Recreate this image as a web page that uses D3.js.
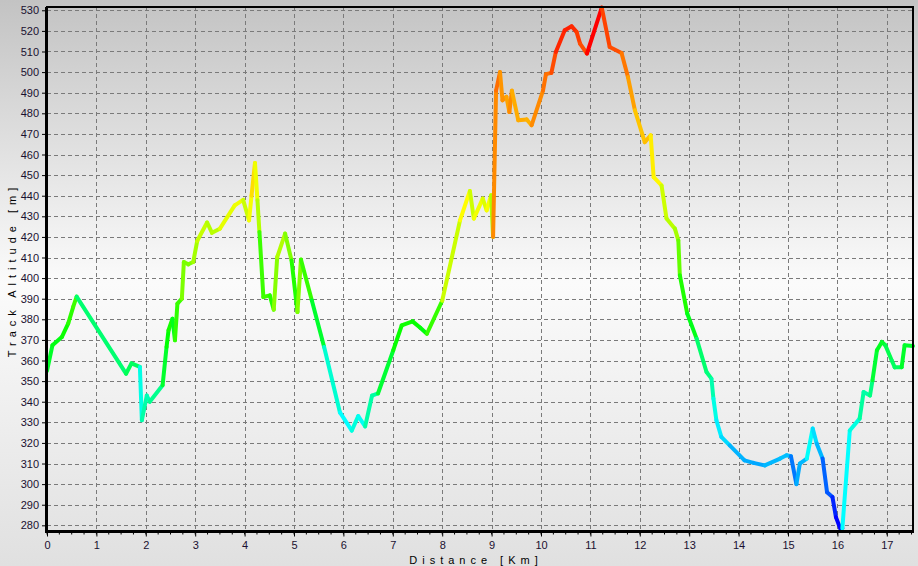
<!DOCTYPE html>
<html><head><meta charset="utf-8">
<script src="https://cdn.jsdelivr.net/npm/d3@7"></script>
<style>html,body{margin:0;padding:0;overflow:hidden;}svg{display:block;}</style>
</head><body>
<svg id="chart" width="918" height="566"></svg>
<script>
const distances = [0,0.11,0.3,0.43,0.53,0.6,1.6,1.71,1.88,1.92,2.02,2.08,2.34,2.42,2.46,2.54,2.59,2.64,2.73,2.77,2.86,2.96,3.04,3.24,3.34,3.5,3.8,3.97,4.09,4.14,4.21,4.26,4.30,4.38,4.51,4.59,4.66,4.82,4.95,5.07,5.14,5.36,5.61,5.93,6.17,6.3,6.44,6.58,6.7,7.01,7.18,7.4,7.55,7.69,8.0,8.36,8.56,8.64,8.82,8.9,8.99,9.03,9.09,9.17,9.22,9.3,9.36,9.41,9.54,9.71,9.81,10.04,10.1,10.21,10.3,10.48,10.62,10.72,10.79,10.93,11.23,11.39,11.63,11.76,11.9,12.1,12.22,12.28,12.44,12.54,12.71,12.78,12.81,12.96,13.15,13.35,13.45,13.49,13.55,13.65,13.82,14.12,14.3,14.53,14.84,14.97,15.06,15.17,15.24,15.38,15.5,15.58,15.7,15.79,15.9,15.97,16.07,16.1,16.25,16.45,16.53,16.66,16.71,16.8,16.9,16.97,17.1,17.16,17.3,17.36,17.53];
const altitudes = [355,367.4,371.4,378,386,391,353.6,358.6,356.9,331,343,340,348,366.6,374.7,380.3,369.8,387.6,390,407.8,406.7,407.8,418,427,422,424,435.3,438,428,440,455.9,437.8,422.4,390.8,391.6,384.7,410.2,421.6,408.6,383.5,409,389.2,366.6,334.8,326,333,328,343,344,365,377,379,376,373,389,428,442.3,428.9,438.6,432.9,440.2,420,491,500,486.3,488,480.6,491,476.6,477,474.2,491,499,499.6,509.8,520.3,522.2,519.5,513.8,509,531.3,512.2,509.3,497.6,481.5,466,469.3,449,445,428.9,424,418.3,401.4,382.8,370.6,354.4,351.2,341.5,331,322.9,318.8,311.5,310.3,309.1,312.4,314,313.5,300,310,312.4,327,319.7,312.4,296,293.7,284,277.6,278.5,326,331.8,344.7,343,350.4,365,369,367.4,360,356.7,356.7,367.4,367];
const xTicks = [0,1,2,3,4,5,6,7,8,9,10,11,12,13,14,15,16,17];
const yTicks = [280,290,300,310,320,330,340,350,360,370,380,390,400,410,420,430,440,450,460,470,480,490,500,510,520,530];
const colorStops = [277,326,375,442,495,531];
const colorRange = ["#0000ff","#00ffff","#00ff00","#ffff00","#ff8000","#ff0000"];
const xLabel = "Distance [Km]";
const yLabel = "Track Altitude [m]";

(function(){
const W = 918, H = 566;
const pL = 47, pR = 913, pT = 7, pB = 531.5;
const svg = d3.select("#chart");
const font = "'Liberation Sans', Arial, sans-serif";

const defs = svg.append("defs");
const grad = defs.append("linearGradient").attr("id","bg").attr("x1",0).attr("y1",0).attr("x2",0).attr("y2",1);
grad.append("stop").attr("offset","0").attr("stop-color","#c3c3c3");
grad.append("stop").attr("offset","0.5").attr("stop-color","#fbfbfb");
grad.append("stop").attr("offset","1").attr("stop-color","#e0e0e0");
svg.append("rect").attr("width",W).attr("height",H).attr("fill","url(#bg)");

const x = d3.scaleLinear().domain([0,17.53]).range([pL,pR]);
const y = d3.scaleLinear().domain([277,531.6]).range([pB,pT]);
const color = d3.scaleLinear().domain(colorStops).range(colorRange).clamp(true);

// grid
const grid = svg.append("g").attr("stroke","#7a7a7a").attr("stroke-width",1).attr("stroke-dasharray","4,3").attr("shape-rendering","crispEdges");
grid.selectAll("line.h").data(yTicks).join("line").attr("class","h")
  .attr("x1",pL).attr("x2",pR).attr("y1",d=>Math.round(y(d))+0.5).attr("y2",d=>Math.round(y(d))+0.5);
grid.selectAll("line.v").data(xTicks.slice(1)).join("line").attr("class","v")
  .attr("y1",pT).attr("y2",pB).attr("x1",d=>Math.round(x(d))+0.5).attr("x2",d=>Math.round(x(d))+0.5);

// line segments, colored by end altitude
const pts = distances.map((d,i)=>({d, a:altitudes[i]}));
const segs = d3.pairs(pts);
svg.append("g").selectAll("line").data(segs).join("line")
  .attr("x1",s=>x(s[0].d)).attr("y1",s=>y(s[0].a))
  .attr("x2",s=>x(s[1].d)).attr("y2",s=>y(s[1].a))
  .attr("stroke",s=>color(s[1].a)).attr("stroke-width",4).attr("stroke-linecap","round");

// axes
const yAxis = d3.axisLeft(y).tickValues(yTicks).tickSize(5).tickPadding(3).tickFormat(d3.format("d"));
const gy = svg.append("g").attr("transform",`translate(${pL},0)`).call(yAxis);
const yMinor = d3.range(278,532,2);
svg.append("g").selectAll("line").data(yMinor).join("line")
  .attr("x1",pL-2).attr("x2",pL).attr("y1",d=>y(d)).attr("y2",d=>y(d)).attr("stroke","#000");
const xAxis = d3.axisBottom(x).tickValues(xTicks).tickSize(5).tickPadding(5).tickFormat(d3.format("d"));
const gx = svg.append("g").attr("transform",`translate(0,${pB})`).call(xAxis);
const xMinor = d3.range(0,17.6,0.25);
svg.append("g").selectAll("line").data(xMinor).join("line")
  .attr("x1",d=>x(d)).attr("x2",d=>x(d)).attr("y1",pB).attr("y2",pB+3).attr("stroke","#000");
[gx,gy].forEach(g=>{
  g.select(".domain").remove();
  g.selectAll("text").attr("font-family",font).attr("font-size",11).attr("fill","#1a1030");
  g.selectAll(".tick line").attr("stroke","#000");
});

// frame
svg.append("line").attr("x1",pL-1).attr("x2",pR+1).attr("y1",pT).attr("y2",pT).attr("stroke","#000").attr("stroke-width",2);
svg.append("line").attr("x1",pR).attr("x2",pR).attr("y1",pT).attr("y2",pB).attr("stroke","#000").attr("stroke-width",2);
svg.append("line").attr("x1",pL-0.5).attr("x2",pL-0.5).attr("y1",pT).attr("y2",pB+1).attr("stroke","#000").attr("stroke-width",3);
svg.append("line").attr("x1",pL-2).attr("x2",pR+1).attr("y1",pB).attr("y2",pB).attr("stroke","#000").attr("stroke-width",3);

// titles
svg.append("text").attr("x",476).attr("y",564).attr("text-anchor","middle")
  .attr("font-family",font).attr("font-size",11).attr("letter-spacing","5px").attr("fill","#000").text(xLabel);
svg.append("text").attr("transform","translate(16,270) rotate(-90)").attr("text-anchor","middle")
  .attr("font-family",font).attr("font-size",11).attr("letter-spacing","5px").attr("fill","#000").text(yLabel);
})();
</script>
</body></html>
